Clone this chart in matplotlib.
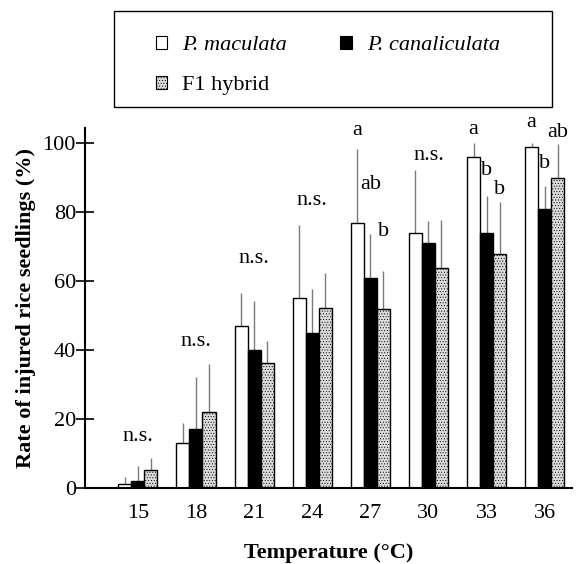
import numpy as np
import matplotlib
matplotlib.use("Agg")
import matplotlib.pyplot as plt
from matplotlib.patches import Rectangle, Patch

temps = [15, 18, 21, 24, 27, 30, 33, 36]
maculata = [1.2, 13.2, 47.1, 55.0, 77.0, 74.0, 96.0, 98.8]
maculata_err = [2.2, 5.6, 9.6, 21.4, 21.4, 18.1, 4.0, 1.2]
canaliculata = [2.2, 17.3, 40.1, 45.1, 61.0, 71.0, 74.0, 81.0]
canaliculata_err = [4.4, 15.0, 14.1, 12.6, 12.7, 6.4, 10.8, 6.5]
hybrid = [5.2, 22.2, 36.2, 52.1, 52.0, 63.9, 68.0, 90.0]
hybrid_err = [3.5, 13.8, 6.4, 10.2, 10.9, 13.9, 15.0, 9.8]

# significance letters: (group index, series 0/1/2, text, y)
ns_labels = [(0, 15), (1, 42.4), (2, 66.5), (3, 83.4), (5, 96.4)]
letters = [(4, 0, "a", 103.7), (4, 1, "ab", 88), (4, 2, "b", 74.5),
           (6, 0, "a", 104), (6, 1, "b", 92), (6, 2, "b", 86.5),
           (7, 0, "a", 106), (7, 1, "b", 94), (7, 2, "ab", 103)]

plt.rcParams['font.family'] = ['Liberation Serif', 'DejaVu Serif']
plt.rcParams['hatch.color'] = '#6a6a6a'
plt.rcParams['hatch.linewidth'] = 0.4

fs = 16
fig = plt.figure(figsize=(5.77, 5.64), dpi=100)
ax = fig.add_axes([0.1473, 0.1342, 0.844, 0.639])

x = np.arange(len(temps))
w = 0.224
series = [(maculata, maculata_err, dict(facecolor='white')),
          (canaliculata, canaliculata_err, dict(facecolor='black')),
          (hybrid, hybrid_err, dict(facecolor='#dcdcdc', hatch='......'))]
for k, (vals, err, style) in enumerate(series):
    pos = x + (k - 1) * w
    ax.errorbar(pos, vals, yerr=[np.zeros(len(vals)), err], fmt='none',
                ecolor='#7a7a7a', elinewidth=1, capsize=0, zorder=1)
    ax.bar(pos, vals, width=w, edgecolor='black', linewidth=1, zorder=2, **style)

for i, y in ns_labels:
    ax.text(x[i], y, "n.s.", ha='center', va='center', fontsize=fs)
for i, k, s, y in letters:
    ax.text(x[i] + (k - 1) * w, y, s, ha='center', va='center', fontsize=fs)

ax.set_xlim(-0.91, 7.47)
ax.set_ylim(0, 104.4)
ax.set_xticks(x)
ax.set_xticklabels([str(t) for t in temps], fontsize=fs)
ax.set_yticks([0, 20, 40, 60, 80, 100])
ax.tick_params(axis='x', length=0, pad=11)
ax.tick_params(axis='y', direction='inout', length=13, width=1.2, labelsize=fs, pad=0)
for s in ['top', 'right']:
    ax.spines[s].set_visible(False)
for s in ['left', 'bottom']:
    ax.spines[s].set_linewidth(1.5)

ax.set_xlabel("Temperature (°C)", fontsize=fs, fontweight='bold', labelpad=15)
ax.set_ylabel("Rate of injured rice seedlings (%)", fontsize=fs, fontweight='bold', labelpad=5)

# legend box
fig.patches.append(Rectangle((114 / 577, 1 - 107 / 564), (552 - 114) / 577, 96 / 564,
                             transform=fig.transFigure, fill=False, edgecolor='black', linewidth=1))
handles = [Patch(facecolor='white', edgecolor='black', linewidth=0.8),
           Patch(facecolor='#dcdcdc', edgecolor='black', linewidth=0.8, hatch='......'),
           Patch(facecolor='black', edgecolor='black', linewidth=0.8)]
labels = ["P. maculata", "F1 hybrid", "P. canaliculata"]
leg = fig.legend(handles, labels, loc='upper left', bbox_to_anchor=(145 / 577, 1 - 25 / 564),
                 ncol=2, frameon=False, fontsize=fs, handlelength=0.5, handleheight=0.5,
                 handletextpad=0.68, columnspacing=2.4, labelspacing=0.93, borderpad=0)
for t in leg.get_texts():
    if t.get_text().startswith("P."):
        t.set_fontstyle('italic')

fig.savefig("out.png", dpi=100)
